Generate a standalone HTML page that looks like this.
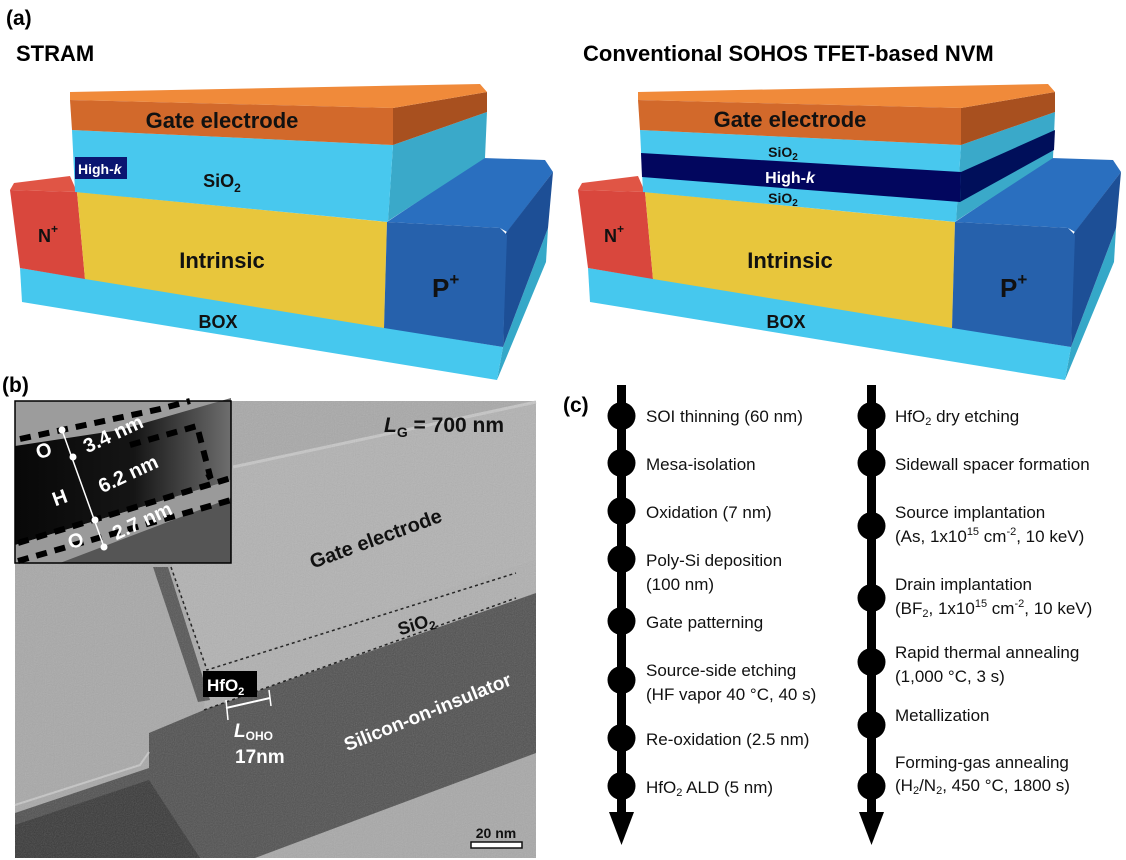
<!DOCTYPE html>
<html><head><meta charset="utf-8"><style>
html,body{margin:0;padding:0;background:#fff;}
svg{display:block;font-family:"Liberation Sans",Arial,sans-serif;}
</style></head><body>
<svg width="1126" height="860" viewBox="0 0 1126 860">
<defs>
<filter id="grain" x="0" y="0" width="100%" height="100%"><feTurbulence type="fractalNoise" baseFrequency="0.9" numOctaves="1" seed="3"/><feColorMatrix type="saturate" values="0"/><feComponentTransfer><feFuncA type="table" tableValues="0 0.25"/></feComponentTransfer><feComposite in2="SourceGraphic" operator="in"/></filter>
<linearGradient id="bandg" x1="0" y1="0" x2="1" y2="0"><stop offset="0" stop-color="#080808"/><stop offset="0.55" stop-color="#151515"/><stop offset="1" stop-color="#6e6e6e"/></linearGradient>
</defs>

<!-- Panel a labels -->
<text x="6" y="25" font-size="21" font-weight="bold">(a)</text>
<text x="16" y="61" font-size="22" font-weight="bold">STRAM</text>
<text x="583" y="61" font-size="22" font-weight="bold">Conventional SOHOS TFET-based NVM</text>

<!-- Left device -->
<g>
 <polygon points="503,347 548,228 546,262 497,380" fill="#35a8c8"/>
 <polygon points="20,268 503,347 497,380 22,302" fill="#46c8ee"/>
 <polygon points="10,190 14,183 70,176 77,192" fill="#e05545"/>
 <polygon points="10,190 77,192 85,279 20,268" fill="#d9473d"/>
 <polygon points="77,192 387,222 384,328 85,279" fill="#e8c63c"/>
 <polygon points="387,222 483,158 545,160 553,172 507,232 500,228" fill="#2a6fbf"/>
 <polygon points="506,233 553,172 548,228 503,347" fill="#1d4f96"/>
 <polygon points="387,222 500,228 507,235 503,347 384,328" fill="#2661ac"/>
 <polygon points="393,145 487,112 485,158 388,221" fill="#3aa9c9"/>
 <polygon points="72,130 393,145 388,222 75,192" fill="#48c8ee"/>
 <polygon points="393,108 487,92 487,112 393,145" fill="#a8501f"/>
 <polygon points="70,92 480,84 487,92 393,108 70,100" fill="#f08a3a"/>
 <polygon points="70,100 393,108 393,145 72,130" fill="#d2692b"/>
 <rect x="75" y="157" width="52" height="22" fill="#0a1570"/>
 <text x="78" y="174" font-size="14" font-weight="bold" fill="#fff">High-<tspan font-style="italic">k</tspan></text>
 <text x="222" y="128" font-size="22" font-weight="bold" text-anchor="middle" fill="#111">Gate electrode</text>
 <text x="222" y="187" font-size="18" font-weight="bold" text-anchor="middle" fill="#111">SiO<tspan font-size="12" dy="5">2</tspan></text>
 <text x="222" y="268" font-size="22" font-weight="bold" text-anchor="middle" fill="#111">Intrinsic</text>
 <text x="38" y="242" font-size="18" font-weight="bold" fill="#111">N<tspan font-size="12" dy="-9">+</tspan></text>
 <text x="432" y="297" font-size="26" font-weight="bold" fill="#111">P<tspan font-size="17" dy="-12">+</tspan></text>
 <text x="218" y="328" font-size="18" font-weight="bold" text-anchor="middle" fill="#111">BOX</text>
</g>

<!-- Right device -->
<g transform="translate(568,0)">
 <polygon points="503,347 548,228 546,262 497,380" fill="#35a8c8"/>
 <polygon points="20,268 503,347 497,380 22,302" fill="#46c8ee"/>
 <polygon points="10,190 14,183 70,176 77,192" fill="#e05545"/>
 <polygon points="10,190 77,192 85,279 20,268" fill="#d9473d"/>
 <polygon points="77,192 387,222 384,328 85,279" fill="#e8c63c"/>
 <polygon points="387,222 483,158 545,160 553,172 507,232 500,228" fill="#2a6fbf"/>
 <polygon points="506,233 553,172 548,228 503,347" fill="#1d4f96"/>
 <polygon points="387,222 500,228 507,235 503,347 384,328" fill="#2661ac"/>
 <polygon points="393,145 487,112 485,158 388,221" fill="#3aa9c9"/>
 <polygon points="393,172 487,130 486,150 392,202" fill="#000f5a"/>
 <polygon points="72,130 393,145 388,222 75,192" fill="#48c8ee"/>
 <polygon points="73,153 393,172 392,202 74,177" fill="#02065e"/>
 <polygon points="393,108 487,92 487,112 393,145" fill="#a8501f"/>
 <polygon points="70,92 480,84 487,92 393,108 70,100" fill="#f08a3a"/>
 <polygon points="70,100 393,108 393,145 72,130" fill="#d2692b"/>
 <text x="222" y="127" font-size="22" font-weight="bold" text-anchor="middle" fill="#111">Gate electrode</text>
 <text x="215" y="157" font-size="14" font-weight="bold" text-anchor="middle" fill="#111">SiO<tspan font-size="10" dy="3">2</tspan></text>
 <text x="222" y="183" font-size="16" font-weight="bold" text-anchor="middle" fill="#fff">High-<tspan font-style="italic">k</tspan></text>
 <text x="215" y="203" font-size="14" font-weight="bold" text-anchor="middle" fill="#111">SiO<tspan font-size="10" dy="3">2</tspan></text>
 <text x="222" y="268" font-size="22" font-weight="bold" text-anchor="middle" fill="#111">Intrinsic</text>
 <text x="36" y="242" font-size="18" font-weight="bold" fill="#111">N<tspan font-size="12" dy="-9">+</tspan></text>
 <text x="432" y="297" font-size="26" font-weight="bold" fill="#111">P<tspan font-size="17" dy="-12">+</tspan></text>
 <text x="218" y="328" font-size="18" font-weight="bold" text-anchor="middle" fill="#111">BOX</text>
</g>

<!-- Panel b -->
<text x="2" y="392" font-size="21" font-weight="bold">(b)</text>
<g>
 <rect x="15" y="401" width="521" height="457" fill="#a8a8a8"/>
 <polygon points="233,467 536,402 536,560 207,670 171,567" fill="#b2b2b2"/>
 <polyline points="233,467 536,402" stroke="#c6c6c6" stroke-width="3" fill="none"/>
 <polygon points="207,670 536,560 536,593 204,710" fill="#b0b0b0"/>
 <polygon points="15,813 149,768 149,733 204,710 536,593 536,753 255,858 15,858" fill="#505050"/>
 <polygon points="15,858 15,825 149,780 200,858" fill="#383838"/>
 <polygon points="153,567 168,567 210,700 198,702" fill="#555"/>
 <polyline points="15,805 140,765 149,752" stroke="#c6c6c6" stroke-width="2" fill="none"/>
 <polyline points="171,567 207,670 516,573" stroke="#111" stroke-width="1.5" stroke-dasharray="3,3" fill="none"/>
 <polyline points="204,710 516,598" stroke="#111" stroke-width="1.5" stroke-dasharray="3,3" fill="none"/>
 <rect x="15" y="401" width="521" height="457" filter="url(#grain)" fill="#000"/>
 <text x="384" y="432" font-size="21" font-weight="bold" fill="#111"><tspan font-style="italic">L</tspan><tspan font-size="14" dy="5">G</tspan><tspan dy="-5"> = 700 nm</tspan></text>
 <text x="378" y="545" font-size="20" font-weight="bold" fill="#111" text-anchor="middle" transform="rotate(-20 378 545)">Gate electrode</text>
 <text x="418" y="630" font-size="18" font-weight="bold" fill="#111" text-anchor="middle" transform="rotate(-17 418 630)">SiO<tspan font-size="12" dy="4">2</tspan></text>
 <rect x="203" y="671" width="54" height="26" fill="#000"/>
 <text x="207" y="691" font-size="17" font-weight="bold" fill="#fff">HfO<tspan font-size="11" dy="4">2</tspan></text>
 <line x1="226" y1="708" x2="270" y2="698" stroke="#fff" stroke-width="2"/>
 <line x1="226" y1="700" x2="228" y2="720" stroke="#fff" stroke-width="1.5"/>
 <line x1="269" y1="690" x2="271" y2="706" stroke="#fff" stroke-width="1.5"/>
 <text x="234" y="737" font-size="19" font-weight="bold" fill="#fff"><tspan font-style="italic">L</tspan><tspan font-size="12" dy="3">OHO</tspan></text>
 <text x="235" y="763" font-size="19" font-weight="bold" fill="#fff">17nm</text>
 <text x="430" y="718" font-size="19" font-weight="bold" fill="#fff" text-anchor="middle" transform="rotate(-22 430 718)">Silicon-on-insulator</text>
 <text x="496" y="838" font-size="14" font-weight="bold" fill="#111" text-anchor="middle">20 nm</text>
 <rect x="471" y="842" width="51" height="6" fill="#fff" stroke="#111" stroke-width="1.5"/>
</g>
<g>
 <rect x="15" y="401" width="216" height="162" fill="#9c9c9c"/>
 <polygon points="15,446 120,430 231,398 231,480 15,545" fill="url(#bandg)"/>
 <polygon points="15,545 231,480 231,563 15,563" fill="#9a9a9a"/>
 <polygon points="60,563 231,498 231,563" fill="#555"/>
 <rect x="15" y="401" width="216" height="162" fill="none" stroke="#000" stroke-width="1.5"/>
 <polyline points="20,439 160,409 190,401" stroke="#000" stroke-width="6" stroke-dasharray="11,8" fill="none"/>
 <polyline points="130,445 197,426 210,476 200,481" stroke="#000" stroke-width="6" stroke-dasharray="11,8" fill="none"/>
 <polyline points="18,543 231,478" stroke="#000" stroke-width="6" stroke-dasharray="11,8" fill="none"/>
 <polyline points="18,561 231,500" stroke="#000" stroke-width="6" stroke-dasharray="11,8" fill="none"/>
 <line x1="62" y1="430" x2="104" y2="547" stroke="#fff" stroke-width="1.5"/>
 <circle cx="62" cy="430" r="3.5" fill="#fff"/><circle cx="73" cy="457" r="3.5" fill="#fff"/><circle cx="95" cy="520" r="3.5" fill="#fff"/><circle cx="104" cy="547" r="3.5" fill="#fff"/>
 <text x="46" y="457" font-size="20" font-weight="bold" fill="#fff" text-anchor="middle" transform="rotate(-20 46 457)">O</text>
 <text x="116" y="440" font-size="20" font-weight="bold" fill="#fff" text-anchor="middle" transform="rotate(-25 116 440)">3.4 nm</text>
 <text x="62" y="504" font-size="20" font-weight="bold" fill="#fff" text-anchor="middle" transform="rotate(-20 62 504)">H</text>
 <text x="131" y="480" font-size="20" font-weight="bold" fill="#fff" text-anchor="middle" transform="rotate(-25 131 480)">6.2 nm</text>
 <text x="78" y="547" font-size="20" font-weight="bold" fill="#fff" text-anchor="middle" transform="rotate(-20 78 547)">O</text>
 <text x="145" y="527" font-size="20" font-weight="bold" fill="#fff" text-anchor="middle" transform="rotate(-25 145 527)">2.7 nm</text>
</g>

<!-- Panel c -->
<text x="563" y="412" font-size="21" font-weight="bold">(c)</text>
<g>
 <rect x="617" y="385" width="9" height="430" fill="#000"/>
 <polygon points="609,812 634,812 621.5,845" fill="#000"/>
 <g fill="#000">
  <circle cx="621.5" cy="416" r="14"/><circle cx="621.5" cy="463" r="14"/><circle cx="621.5" cy="511" r="14"/><circle cx="621.5" cy="559" r="14"/><circle cx="621.5" cy="621" r="14"/><circle cx="621.5" cy="680" r="14"/><circle cx="621.5" cy="738" r="14"/><circle cx="621.5" cy="786" r="14"/>
 </g>
 <g font-size="17" fill="#111">
  <text x="646" y="422">SOI thinning (60 nm)</text>
  <text x="646" y="470">Mesa-isolation</text>
  <text x="646" y="518">Oxidation (7 nm)</text>
  <text x="646" y="566">Poly-Si deposition</text>
  <text x="646" y="590">(100 nm)</text>
  <text x="646" y="628">Gate patterning</text>
  <text x="646" y="676">Source-side etching</text>
  <text x="646" y="700">(HF vapor 40 °C, 40 s)</text>
  <text x="646" y="745">Re-oxidation (2.5 nm)</text>
  <text x="646" y="793">HfO<tspan font-size="11" dy="3">2</tspan><tspan dy="-3"> ALD (5 nm)</tspan></text>
 </g>
</g>
<g>
 <rect x="867" y="385" width="9" height="430" fill="#000"/>
 <polygon points="859,812 884,812 871.5,845" fill="#000"/>
 <g fill="#000">
  <circle cx="871.5" cy="416" r="14"/><circle cx="871.5" cy="463" r="14"/><circle cx="871.5" cy="526" r="14"/><circle cx="871.5" cy="598" r="14"/><circle cx="871.5" cy="662" r="14"/><circle cx="871.5" cy="725" r="14"/><circle cx="871.5" cy="786" r="14"/>
 </g>
 <g font-size="17" fill="#111">
  <text x="895" y="422">HfO<tspan font-size="11" dy="3">2</tspan><tspan dy="-3"> dry etching</tspan></text>
  <text x="895" y="470">Sidewall spacer formation</text>
  <text x="895" y="518">Source implantation</text>
  <text x="895" y="542">(As, 1x10<tspan font-size="11" dy="-7">15</tspan><tspan dy="7"> cm</tspan><tspan font-size="11" dy="-7">-2</tspan><tspan dy="7">, 10 keV)</tspan></text>
  <text x="895" y="590">Drain implantation</text>
  <text x="895" y="614">(BF<tspan font-size="11" dy="3">2</tspan><tspan dy="-3">, 1x10</tspan><tspan font-size="11" dy="-7">15</tspan><tspan dy="7"> cm</tspan><tspan font-size="11" dy="-7">-2</tspan><tspan dy="7">, 10 keV)</tspan></text>
  <text x="895" y="658">Rapid thermal annealing</text>
  <text x="895" y="682">(1,000 °C, 3 s)</text>
  <text x="895" y="721">Metallization</text>
  <text x="895" y="768">Forming-gas annealing</text>
  <text x="895" y="791">(H<tspan font-size="11" dy="3">2</tspan><tspan dy="-3">/N</tspan><tspan font-size="11" dy="3">2</tspan><tspan dy="-3">, 450 °C, 1800 s)</tspan></text>
 </g>
</g>
</svg>
</body></html>
